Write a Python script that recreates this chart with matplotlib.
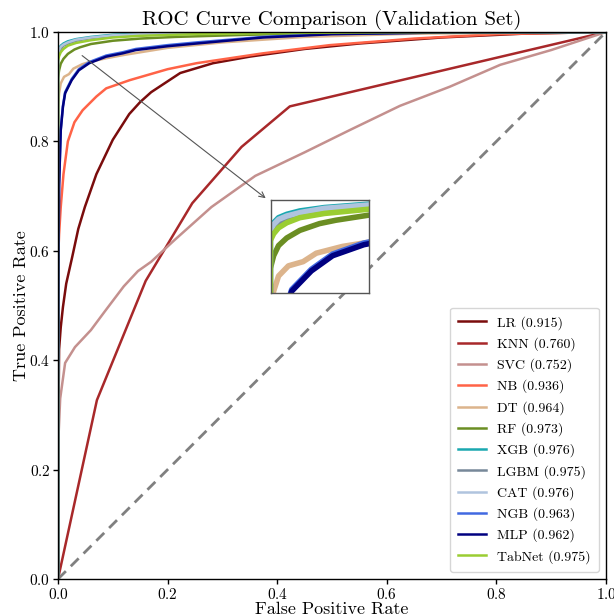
import matplotlib
matplotlib.use("Agg")
import matplotlib.pyplot as plt

plt.rcParams['font.family'] = 'serif'
plt.rcParams['font.serif'] = ['cmr10', 'DejaVu Serif']
plt.rcParams['mathtext.fontset'] = 'cm'
plt.rcParams['axes.formatter.use_mathtext'] = True
plt.rcParams['axes.unicode_minus'] = False

models = ['LR', 'KNN', 'SVC', 'NB', 'DT', 'RF', 'XGB', 'LGBM', 'CAT', 'NGB', 'MLP', 'TabNet']
aucs = [0.915, 0.760, 0.752, 0.936, 0.964, 0.973, 0.976, 0.975, 0.976, 0.963, 0.962, 0.975]
colors = ['#7a0c0c', '#a8282a', '#c4908e', '#ff6347', '#dcb48c', '#6b8e23',
          '#1aa8b0', '#778899', '#b0c4de', '#4169e1', '#000080', '#9acd32']

fpr_lr = [0, 0, 0.002, 0.005, 0.009, 0.015, 0.026, 0.037, 0.049, 0.07, 0.1, 0.13, 0.15, 0.17,
          0.223, 0.283, 0.35, 0.45, 0.55, 0.7, 0.85, 1]
tpr_lr = [0, 0.2, 0.42, 0.46, 0.497, 0.54, 0.589, 0.64, 0.68, 0.74, 0.803, 0.85, 0.872, 0.89,
          0.925, 0.943, 0.955, 0.969, 0.979, 0.99, 0.997, 1]

fpr_knn = [0, 0.071, 0.16, 0.245, 0.335, 0.423, 1]
tpr_knn = [0, 0.327, 0.545, 0.687, 0.79, 0.864, 1]

fpr_svc = [0, 0, 0.004, 0.013, 0.031, 0.06, 0.086, 0.12, 0.146, 0.17, 0.213, 0.28, 0.36, 0.45,
           0.533, 0.624, 0.715, 0.807, 0.9, 1]
tpr_svc = [0, 0.24, 0.33, 0.395, 0.424, 0.455, 0.49, 0.535, 0.563, 0.58, 0.62, 0.68, 0.737, 0.78,
           0.821, 0.865, 0.9, 0.94, 0.967, 1]

fpr_nb = [0, 0, 0.002, 0.005, 0.01, 0.018, 0.03, 0.045, 0.07, 0.088, 0.131, 0.2, 0.253, 0.374,
          0.496, 0.65, 0.8, 1]
tpr_nb = [0, 0.58, 0.63, 0.68, 0.74, 0.8, 0.835, 0.857, 0.882, 0.897, 0.912, 0.932, 0.943, 0.961,
          0.976, 0.988, 0.996, 1]

fpr_dt = [0, 0, 0.002, 0.005, 0.011, 0.02, 0.028, 0.044, 0.06, 0.088, 0.12, 0.2, 0.3, 0.45, 0.65, 1]
tpr_dt = [0, 0.86, 0.888, 0.906, 0.918, 0.923, 0.933, 0.941, 0.946, 0.952, 0.958, 0.971, 0.981,
          0.991, 0.997, 1]

fpr_rf = [0, 0, 0.002, 0.005, 0.01, 0.018, 0.03, 0.04, 0.06, 0.1, 0.15, 0.214, 0.35, 0.55, 1]
tpr_rf = [0, 0.915, 0.93, 0.942, 0.951, 0.96, 0.968, 0.972, 0.978, 0.984, 0.988, 0.991, 0.995,
          0.999, 1]

fpr_top = [0, 0, 0.002, 0.005, 0.01, 0.018, 0.033, 0.06, 0.1, 0.15, 0.25, 0.4, 0.6, 1]
tpr_xgb = [0, 0.962, 0.969, 0.975, 0.979, 0.983, 0.987, 0.991, 0.995, 0.997, 0.998, 0.999, 1, 1]
tpr_lgbm = [0, 0.955, 0.963, 0.969, 0.975, 0.979, 0.984, 0.989, 0.993, 0.995, 0.997, 0.999, 1, 1]
tpr_cat = [0, 0.96, 0.967, 0.973, 0.977, 0.981, 0.986, 0.99, 0.994, 0.996, 0.998, 0.999, 1, 1]
tpr_tab = [0, 0.948, 0.956, 0.963, 0.969, 0.975, 0.98, 0.985, 0.99, 0.993, 0.996, 0.998, 0.9995, 1]

fpr_blue = [0, 0, 0.001, 0.002, 0.005, 0.009, 0.013, 0.025, 0.038, 0.057, 0.088, 0.118, 0.142,
            0.2, 0.253, 0.374, 0.5, 0.7, 1]
tpr_ngb = [0, 0.35, 0.6, 0.722, 0.822, 0.865, 0.89, 0.914, 0.932, 0.945, 0.957, 0.963, 0.969,
           0.976, 0.981, 0.991, 0.997, 0.999, 1]
tpr_mlp = [0, 0.35, 0.6, 0.72, 0.82, 0.863, 0.888, 0.912, 0.93, 0.943, 0.955, 0.961, 0.967,
           0.974, 0.979, 0.99, 0.996, 0.999, 1]

curves = [(fpr_lr, tpr_lr), (fpr_knn, tpr_knn), (fpr_svc, tpr_svc), (fpr_nb, tpr_nb),
          (fpr_dt, tpr_dt), (fpr_rf, tpr_rf), (fpr_top, tpr_xgb), (fpr_top, tpr_lgbm),
          (fpr_top, tpr_cat), (fpr_blue, tpr_ngb), (fpr_blue, tpr_mlp), (fpr_top, tpr_tab)]

fig = plt.figure(figsize=(6.14, 6.16), dpi=100)
ax = fig.add_axes([58 / 614, 1 - 579 / 616, 548 / 614, 547 / 616])

for name, auc, c, (f, t) in zip(models, aucs, colors, curves):
    ax.plot(f, t, color=c, lw=1.8, label=f'{name} ({auc:.3f})')
ax.plot([0, 1], [0, 1], color='gray', lw=2, ls=(0, (4, 2.5)))

ax.set_xlim(0, 1)
ax.set_ylim(0, 1)
ax.set_xlabel('False Positive Rate', fontsize=13, labelpad=0)
ax.set_ylabel('True Positive Rate', fontsize=13, labelpad=0)
ax.set_title('ROC Curve Comparison (Validation Set)', fontsize=15, pad=5)
ax.tick_params(labelsize=11, length=3.5, width=1, pad=2)
for s in ax.spines.values():
    s.set_linewidth(1)

leg = ax.legend(loc='lower right', fontsize=10, frameon=True, fancybox=True,
                handlelength=2.0, handletextpad=0.8, labelspacing=0.54, borderpad=0.6)
leg.get_frame().set_edgecolor('#cccccc')

# inset
ins = ax.inset_axes([0.389, 0.523, 0.178, 0.17])
inset_ids = [4, 5, 6, 7, 8, 9, 10, 11]
for i in inset_ids:
    f, t = curves[i]
    ins.plot(f, t, color=colors[i], lw=4)
ins.set_xlim(0.0005, 0.06)
ins.set_ylim(0.886, 0.996)
ins.set_xticks([])
ins.set_yticks([])
for s in ins.spines.values():
    s.set_edgecolor('#555555')
    s.set_linewidth(1)

ax.annotate('', xy=(0.383, 0.693), xytext=(0.04, 0.96),
            arrowprops=dict(arrowstyle='->', color='#555555', lw=0.8))

fig.savefig('out.png', dpi=100)
